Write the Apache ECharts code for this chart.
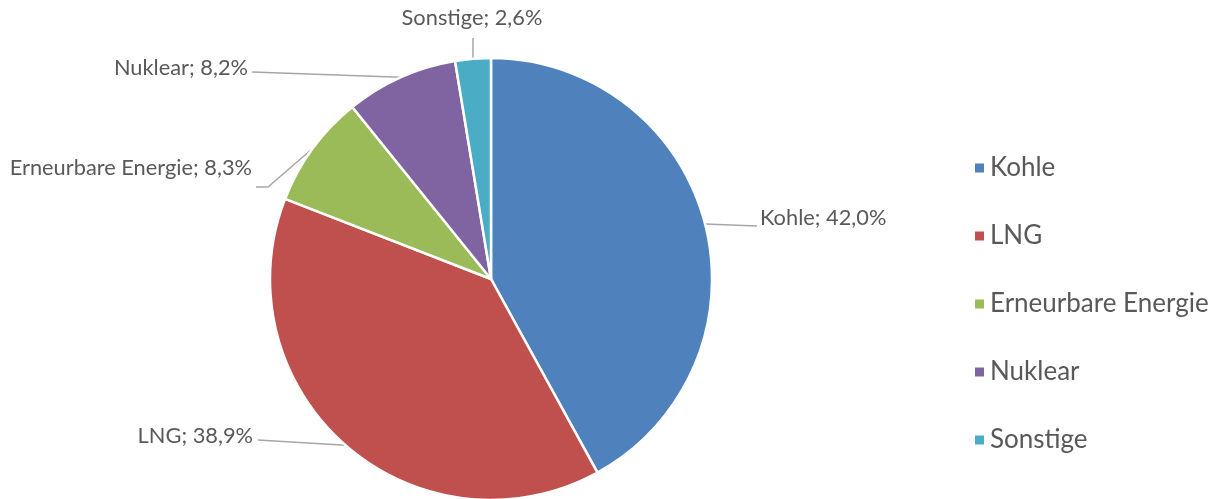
<!DOCTYPE html>
<html>
<head>
<meta charset="utf-8">
<script src="https://cdn.jsdelivr.net/npm/echarts@6/dist/echarts.min.js"></script>
<style>
  html, body { margin: 0; padding: 0; background: #fff; }
  #main { width: 1216px; height: 499px; }
</style>
</head>
<body>
<div id="main"></div>
<script>
// Anteile (Prozent)
var categories = ['Kohle', 'LNG', 'Erneurbare Energie', 'Nuklear', 'Sonstige'];
var values = [42.0, 38.9, 8.3, 8.2, 2.6];
var colors = ['#4F81BD', '#C0504D', '#9BBB59', '#8064A2', '#4BACC6'];

// Label-Positionen wie in der Vorlage (Text-Anker + Knickpunkte der Linie)
var labelPos = [
  { x: 760, y: 218, align: 'left', line: [[757, 226]] },
  { x: 253, y: 436, align: 'right', line: [[258, 440]] },
  { x: 252, y: 168, align: 'right', line: [[268, 187], [256, 187]] },
  { x: 248, y: 68, align: 'right', line: [[252, 72]] },
  { x: 472, y: 18, align: 'center', line: [[473, 38]] }
];

var chart = echarts.init(document.getElementById('main'));
var fontFam = 'Lato, "Open Sans", sans-serif';

var option = {
  animation: false,
  color: colors,
  legend: {
    orient: 'vertical',
    left: 968,
    top: 150,
    icon: 'rect',
    itemWidth: 11,
    itemHeight: 11,
    itemGap: 42,
    textStyle: { fontFamily: fontFam, fontSize: 26, color: '#595959' },
    data: categories
  },
  series: [{
    type: 'pie',
    center: [491, 279],
    radius: 221,
    startAngle: 90,
    clockwise: true,
    itemStyle: { borderColor: '#fff', borderWidth: 2.5 },
    label: {
      show: true,
      position: 'outside',
      fontFamily: fontFam,
      fontSize: 21.8,
      color: '#595959',
      formatter: function (p) {
        return p.name + '; ' + p.value.toFixed(1).replace('.', ',') + '%';
      }
    },
    labelLine: {
      show: true,
      length: 20,
      length2: 20,
      lineStyle: { color: '#A6A6A6', width: 1.5 }
    },
    labelLayout: function (params) {
      var lp = labelPos[params.dataIndex];
      var start = params.labelLinePoints ? params.labelLinePoints[0] : null;
      var res = { x: lp.x, y: lp.y, align: lp.align, verticalAlign: 'middle' };
      if (start) {
        res.labelLinePoints = [start].concat(lp.line);
      }
      return res;
    },
    data: categories.map(function (c, i) {
      return { name: c, value: values[i] };
    })
  }]
};
chart.setOption(option);
</script>
</body>
</html>
